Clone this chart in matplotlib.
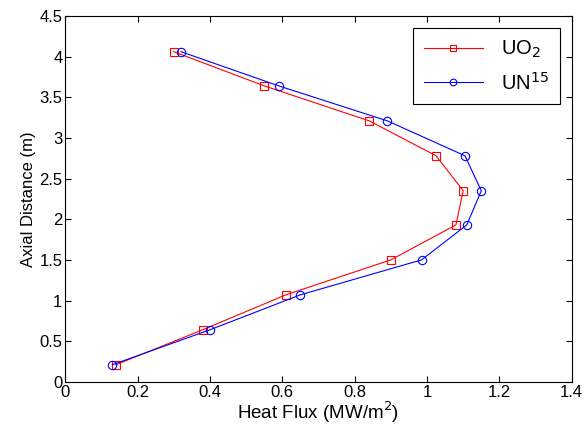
import matplotlib
matplotlib.use("Agg")
import matplotlib.pyplot as plt

plt.rcParams['font.family'] = ['Liberation Sans', 'DejaVu Sans']

# axial positions (m)
axial = [0.21, 0.64, 1.07, 1.50, 1.93, 2.35, 2.78, 3.21, 3.64, 4.06]
# heat flux (MW/m^2)
flux_uo2 = [0.14, 0.38, 0.61, 0.90, 1.08, 1.10, 1.025, 0.84, 0.55, 0.30]
flux_un = [0.13, 0.40, 0.65, 0.985, 1.11, 1.15, 1.105, 0.89, 0.59, 0.32]

fig = plt.figure(figsize=(5.87, 4.3), dpi=100)
ax = fig.add_axes([0.111, 0.112, 0.863, 0.851])

ax.plot(flux_uo2, axial, color='red', lw=0.8, marker='s', ms=6,
        mfc='none', mec='red', mew=0.8, label='UO$_2$')
ax.plot(flux_un, axial, color='blue', lw=0.8, marker='o', ms=6,
        mfc='none', mec='blue', mew=0.8, label='UN$^{15}$')

ax.set_xlim(0, 1.4)
ax.set_ylim(0, 4.5)
ax.set_xticks([0, 0.2, 0.4, 0.6, 0.8, 1, 1.2, 1.4])
ax.set_xticklabels(['0', '0.2', '0.4', '0.6', '0.8', '1', '1.2', '1.4'])
ax.set_yticks([0, 0.5, 1, 1.5, 2, 2.5, 3, 3.5, 4, 4.5])
ax.set_yticklabels(['0', '0.5', '1', '1.5', '2', '2.5', '3', '3.5', '4', '4.5'])
ax.tick_params(direction='in', top=True, right=True, labelsize=12, length=4, pad=2)
ax.set_xlabel('Heat Flux (MW/m$^2$)', fontsize=13.5, labelpad=0)
ax.set_ylabel('Axial Distance (m)', fontsize=12, labelpad=2)

leg = ax.legend(loc='upper right', fontsize=14.5, fancybox=False, framealpha=1,
                edgecolor='black', handlelength=2.9, handletextpad=0.9,
                borderaxespad=0.6, markerscale=0.8, labelspacing=0.55,
                borderpad=0.55)
leg.get_frame().set_linewidth(0.8)

fig.savefig('out.png', dpi=100)
